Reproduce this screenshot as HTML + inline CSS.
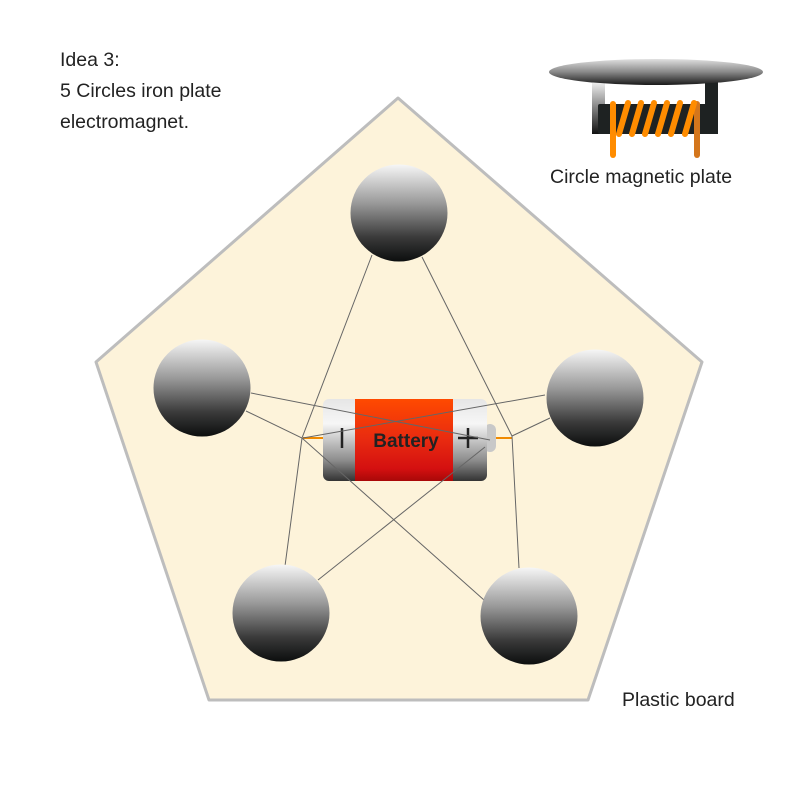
<!DOCTYPE html>
<html><head><meta charset="utf-8"><style>
body{margin:0;background:#fff;}
svg{display:block}
text{font-family:"Liberation Sans",sans-serif;fill:#222}
</style></head><body>
<svg width="800" height="800" viewBox="0 0 800 800">
<defs>
<linearGradient id="ball" x1="0" y1="0" x2="0" y2="1">
<stop offset="0" stop-color="#f6f6f6"/><stop offset="0.4" stop-color="#999"/><stop offset="0.75" stop-color="#3a3a3a"/><stop offset="1" stop-color="#0c0e0e"/>
</linearGradient>
<linearGradient id="plate" x1="0" y1="0" x2="0" y2="1">
<stop offset="0" stop-color="#e0e0e0"/><stop offset="0.5" stop-color="#888"/><stop offset="1" stop-color="#1a1a1a"/>
</linearGradient>
<linearGradient id="post" x1="0" y1="0" x2="0" y2="1">
<stop offset="0" stop-color="#f0f0f0"/><stop offset="1" stop-color="#111"/>
</linearGradient>
<linearGradient id="cell" x1="0" y1="0" x2="0" y2="1">
<stop offset="0" stop-color="#e6e6e6"/><stop offset="0.3" stop-color="#f6f6f6"/><stop offset="0.75" stop-color="#8c8c8c"/><stop offset="1" stop-color="#333"/>
</linearGradient>
<linearGradient id="red" x1="0" y1="0" x2="0" y2="1">
<stop offset="0" stop-color="#ff4a00"/><stop offset="0.5" stop-color="#e82a10"/><stop offset="0.85" stop-color="#d41010"/><stop offset="1" stop-color="#a80808"/>
</linearGradient>
</defs>
<polygon points="398,98 702,362 588,700 209,700 96,362" fill="#fdf3da" stroke="#bdbdbd" stroke-width="3" stroke-linejoin="round"/>

<!-- battery -->
<line x1="303" y1="438" x2="323" y2="438" stroke="#f08a00" stroke-width="2"/>
<line x1="492" y1="438" x2="512" y2="438" stroke="#f08a00" stroke-width="2"/>
<rect x="484" y="424" width="12" height="28" rx="6" fill="#c8c8c8"/>
<rect x="323" y="399" width="164" height="82" rx="6" fill="url(#cell)"/>
<rect x="355" y="399" width="98" height="82" fill="url(#red)"/>
<text x="406" y="447" text-anchor="middle" font-size="19" font-weight="bold" fill="#222">Battery</text>
<line x1="342" y1="428" x2="342" y2="448" stroke="#222" stroke-width="2.5"/>
<line x1="458" y1="438" x2="478" y2="438" stroke="#222" stroke-width="2.5"/>
<line x1="468" y1="428" x2="468" y2="448" stroke="#222" stroke-width="2.5"/>

<g stroke="#666" stroke-width="1" fill="none">
<polyline points="372,255 302,438 285,566"/>
<polyline points="422,257 512,436 519,568"/>
<line x1="251" y1="393" x2="490" y2="440"/>
<polyline points="246,411 302,438 484,600"/>
<line x1="545" y1="395" x2="303" y2="438"/>
<polyline points="550,418 512,436"/>
<line x1="485" y1="447" x2="318" y2="580"/>
</g>

<circle cx="399" cy="213" r="48.5" fill="url(#ball)"/>
<circle cx="202" cy="388" r="48.5" fill="url(#ball)"/>
<circle cx="595" cy="398" r="48.5" fill="url(#ball)"/>
<circle cx="281" cy="613" r="48.5" fill="url(#ball)"/>
<circle cx="529" cy="616" r="48.5" fill="url(#ball)"/>

<!-- magnetic plate -->
<rect x="592" y="82" width="13" height="52" fill="url(#post)"/>
<rect x="705" y="80" width="13" height="54" fill="#1e2222"/>
<rect x="598" y="104" width="120" height="30" rx="2" fill="#1e2222"/>
<ellipse cx="656" cy="72" rx="107" ry="13" fill="url(#plate)"/>
<g stroke="#ff8c00" stroke-width="6" stroke-linecap="round" fill="none">
<line x1="613" y1="104" x2="613" y2="155"/>
<line x1="697" y1="104" x2="697" y2="155" stroke="#d4761c"/>
<line x1="628" y1="103" x2="619" y2="134"/>
<line x1="641" y1="103" x2="632" y2="134"/>
<line x1="654" y1="103" x2="645" y2="134"/>
<line x1="667" y1="103" x2="658" y2="134"/>
<line x1="680" y1="103" x2="671" y2="134"/>
<line x1="694" y1="103" x2="685" y2="134"/>
</g>

<text x="60" y="66" font-size="19.5">Idea 3:</text>
<text x="60" y="97" font-size="19.5">5 Circles iron plate</text>
<text x="60" y="128" font-size="19.5">electromagnet.</text>
<text x="550" y="183" font-size="19.5">Circle magnetic plate</text>
<text x="622" y="706" font-size="19.5">Plastic board</text>
</svg>
</body></html>
